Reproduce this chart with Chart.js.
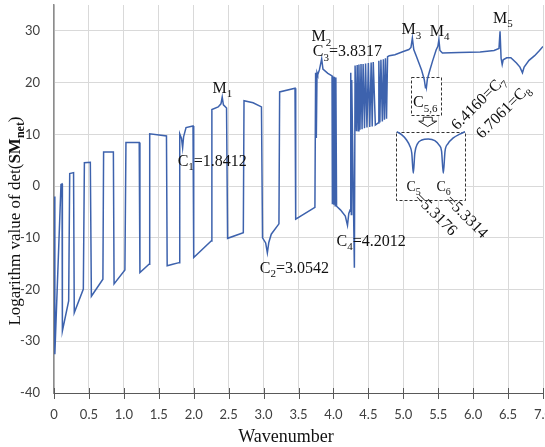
<!DOCTYPE html>
<html>
<head>
<meta charset="utf-8">
<script src="https://cdn.jsdelivr.net/npm/chart.js@4.4.1/dist/chart.umd.min.js"></script>
<style>
  body { margin: 0; background: #fff; }
  canvas { display: block; }
</style>
</head>
<body>
<canvas id="detChart" width="545" height="447"></canvas>
<script>
// log value of det(SMnet) against wavenumber
const wavenumber = [
  0.000, 0.012, 0.100, 0.115, 0.120, 0.210, 0.225, 0.280, 0.290, 0.420,
  0.435, 0.520, 0.535, 0.700, 0.710, 0.850, 0.860, 1.015, 1.030, 1.220,
  1.230, 1.360, 1.370, 1.610, 1.620, 1.700, 1.790, 1.800, 1.825, 1.8412,
  1.855, 1.890, 1.990, 2.000, 2.250, 2.260, 2.350, 2.390, 2.408, 2.425,
  2.470, 2.485, 2.710, 2.720, 2.850, 2.970, 2.985, 3.030, 3.0542, 3.075,
  3.110, 3.220, 3.230, 3.450, 3.460, 3.735, 3.745, 3.755, 3.765, 3.775,
  3.800, 3.8317, 3.850, 3.920, 3.980, 3.985, 3.995, 4.005, 4.015, 4.025,
  4.035, 4.045, 4.100, 4.170, 4.2012, 4.220, 4.240, 4.248, 4.256, 4.262,
  4.300, 4.310, 4.330, 4.340, 4.355, 4.365, 4.380, 4.395, 4.410, 4.425,
  4.445, 4.460, 4.480, 4.500, 4.520, 4.540, 4.555, 4.570, 4.600, 4.640,
  4.650, 4.665, 4.680, 4.700, 4.715, 4.730, 4.745, 4.760, 4.775, 4.800,
  4.880, 5.000, 5.080, 5.110, 5.130, 5.150, 5.190, 5.260, 5.300, 5.3176,
  5.325, 5.3314, 5.345, 5.380, 5.420, 5.470, 5.495, 5.510, 5.525, 5.560,
  5.800, 6.100, 6.300, 6.370, 6.385, 6.400, 6.416, 6.430, 6.480, 6.540,
  6.620, 6.670, 6.7061, 6.730, 6.800, 6.880, 6.950, 7.000
];
const logDet = [
  -2.0, -32.5, 0.3, 0.4, -28.0, -22.2, 2.4, 2.6, -24.5, -19.9,
  4.5, 4.6, -21.3, -18.0, 6.6, 6.6, -18.9, -16.2, 8.4, 8.4,
  -16.7, -15.1, 10.1, 9.7, -15.4, -15.1, -14.8, 10.1, 9.2, 7.4,
  9.5, 11.3, 11.6, -13.8, -10.6, 14.8, 15.3, 15.9, 17.2, 15.7,
  15.1, -10.1, -9.0, 16.5, 16.1, 15.3, -10.0, -11.0, -12.9, -10.9,
  -9.3, -7.3, 18.2, 18.9, -6.4, -4.1, 21.9, 9.3, 21.9, 21.5,
  22.5, 24.6, 22.6, 21.8, 21.3, -3.5, 21.2, -3.6, 21.1, -3.8,
  21.0, -3.9, -4.6, -5.8, -7.6, -5.3, -4.6, 21.9, -5.5, 20.5,
  -15.8, 23.3, 10.6, 23.4, 10.7, 23.5, 10.9, 23.6, 11.0, 23.6,
  11.2, 23.7, 11.3, 23.8, 11.4, 23.9, 11.5, 24.0, 11.8, 12.2,
  24.2, 12.3, 24.4, 12.5, 24.5, 12.8, 24.7, 13.0, 25.0, 25.2,
  25.4, 26.0, 26.4, 26.8, 28.6, 26.4, 25.0, 22.5, 20.6, 19.0,
  19.6, 19.1, 20.7, 22.4, 24.2, 26.3, 27.0, 28.3, 26.2, 25.7,
  25.8, 25.9, 26.2, 26.6, 29.9, 24.7, 23.5, 24.4, 24.8, 24.8,
  23.8, 23.0, 21.9, 23.0, 24.3, 25.2, 26.2, 27.0
];

// magnified view of the C5 / C6 double dip drawn inside the inset box
const insetWavenumber = [
  5.3100, 5.3125, 5.3145, 5.3160, 5.3169, 5.3176, 5.3183, 5.3195, 5.3215, 5.3245,
  5.3275, 5.3295, 5.3306, 5.3314, 5.3322, 5.3335, 5.3360, 5.3390, 5.3414
];
const insetLogDet = [
  24.0, 23.0, 21.6, 19.9, 17.8, 12.0, 17.8, 20.5, 21.6, 21.9,
  21.4, 20.1, 18.4, 12.0, 18.4, 20.5, 22.2, 23.3, 24.0
];

const xTicks = [0, 0.5, 1, 1.5, 2, 2.5, 3, 3.5, 4, 4.5, 5, 5.5, 6, 6.5, 7];
const yTicks = [-40, -30, -20, -10, 0, 10, 20, 30];

// text labels on the curve, {n} is a subscript
const notes = [
  { t: 'M{1}', x: 2.41, y: 18.0, align: 'center' },
  { t: 'C{1}=1.8412', x: 1.77, y: 3.9 },
  { t: 'M{2}', x: 3.686, y: 28.0 },
  { t: 'C{3}=3.8317', x: 3.705, y: 25.1 },
  { t: 'C{2}=3.0542', x: 2.947, y: -16.8 },
  { t: 'C{4}=4.2012', x: 4.044, y: -11.6 },
  { t: 'M{3}', x: 5.117, y: 29.3, align: 'center' },
  { t: 'M{4}', x: 5.38, y: 29.0 },
  { t: 'M{5}', x: 6.285, y: 31.5 },
  { t: 'C{5,6}', x: 5.14, y: 15.2 },
  { t: 'C{5}', x: 5.045, y: -0.9, size: 14 },
  { t: 'C{6}', x: 5.475, y: -0.9, size: 14 },
  { t: '=5.3176', x: 5.15, y: -2.5, angle: 45 },
  { t: '=5.3314', x: 5.59, y: -2.95, angle: 45 },
  { t: '6.4160=C{7}', x: 5.771, y: 10.7, angle: -45 },
  { t: '6.7061=C{8}', x: 6.127, y: 9.07, angle: -45 }
];

const serif = '"Liberation Serif", "Times New Roman", serif';

function parseRuns(str) {
  return str.split(/(\{[^}]*\})/).filter(s => s).map(s =>
    s[0] === '{' ? [s.slice(1, -1), true] : [s, false]);
}

function drawRuns(ctx, runs, x, y, opts) {
  const size = opts.size || 16;
  const fontOf = r => (r[2] ? 'bold ' : '') + (r[1] ? Math.round(size * 0.68) : size) + 'px ' + serif;
  let w = 0;
  runs.forEach(r => { ctx.font = fontOf(r); w += ctx.measureText(r[0]).width; });
  ctx.save();
  ctx.translate(x, y);
  ctx.rotate((opts.angle || 0) * Math.PI / 180);
  ctx.fillStyle = '#111';
  ctx.textBaseline = 'alphabetic';
  ctx.textAlign = 'left';
  let cx = opts.align === 'center' ? -w / 2 : 0;
  runs.forEach(r => {
    ctx.font = fontOf(r);
    ctx.fillText(r[0], cx, r[1] ? size * 0.27 : 0);
    cx += ctx.measureText(r[0]).width;
  });
  ctx.restore();
}

const decorations = {
  id: 'decorations',
  beforeDatasetsDraw(chart) {
    const { ctx, scales: { x, y } } = chart;
    ctx.save();
    ctx.strokeStyle = '#333';
    ctx.lineWidth = 1;
    ctx.setLineDash([3, 2]);
    [[5.107, 5.536, 21.0, 13.65], [4.89, 5.88, 10.4, -2.8]].forEach(b => {
      const l = x.getPixelForValue(b[0]), r = x.getPixelForValue(b[1]);
      const t = y.getPixelForValue(b[2]), bt = y.getPixelForValue(b[3]);
      ctx.fillStyle = '#fff';
      ctx.fillRect(l, t, r - l, bt - t);
      ctx.strokeRect(Math.round(l) + 0.5, Math.round(t) + 0.5, Math.round(r - l), Math.round(bt - t));
    });
    // hollow arrow from the small box to the inset
    ctx.setLineDash([]);
    const ax = x.getPixelForValue(5.35);
    const y0 = y.getPixelForValue(13.3), y1 = y.getPixelForValue(12.55), y2 = y.getPixelForValue(11.5);
    ctx.beginPath();
    ctx.moveTo(ax - 4.5, y0);
    ctx.lineTo(ax + 4.5, y0);
    ctx.lineTo(ax + 4.5, y1);
    ctx.lineTo(ax + 9, y1);
    ctx.lineTo(ax, y2);
    ctx.lineTo(ax - 9, y1);
    ctx.lineTo(ax - 4.5, y1);
    ctx.closePath();
    ctx.fillStyle = '#fff';
    ctx.fill();
    ctx.strokeStyle = '#222';
    ctx.stroke();
    ctx.restore();
  },
  afterDraw(chart) {
    const { ctx, scales: { x, y }, chartArea } = chart;
    ctx.save();
    // tick marks crossing the x axis
    ctx.strokeStyle = '#595959';
    ctx.lineWidth = 1;
    xTicks.forEach(v => {
      const px = Math.round(x.getPixelForValue(v)) + 0.5;
      ctx.beginPath();
      ctx.moveTo(px, chartArea.bottom - 5);
      ctx.lineTo(px, chartArea.bottom + 6);
      ctx.stroke();
    });
    notes.forEach(n => drawRuns(ctx, parseRuns(n.t), x.getPixelForValue(n.x), y.getPixelForValue(n.y), n));
    // axis titles
    drawRuns(ctx, [['Wavenumber', false]], 286, 442, { size: 18, align: 'center' });
    drawRuns(ctx, [['Logarithm value of det(', false], ['SM', false, true], ['net', true, true], [')', false]],
      19.5, 221, { size: 17, align: 'center', angle: -90 });
    ctx.restore();
  }
};

new Chart(document.getElementById('detChart'), {
  type: 'line',
  data: {
    datasets: [
      {
        data: wavenumber.map((w, i) => ({ x: w, y: logDet[i] })),
        borderColor: '#3d62ad',
        borderWidth: 1.5,
        pointRadius: 0,
        tension: 0
      },
      {
        data: insetWavenumber.map((w, i) => ({ x: w, y: insetLogDet[i] })),
        xAxisID: 'xi',
        yAxisID: 'yi',
        borderColor: '#3d62ad',
        borderWidth: 1.5,
        pointRadius: 0,
        cubicInterpolationMode: 'monotone'
      }
    ]
  },
  options: {
    responsive: false,
    animation: false,
    devicePixelRatio: 1,
    layout: { padding: { left: 0, right: 2, top: 5, bottom: 0 } },
    plugins: { legend: { display: false }, tooltip: { enabled: false } },
    scales: {
      x: {
        type: 'linear',
        min: 0,
        max: 7,
        afterBuildTicks: s => { s.ticks = xTicks.map(v => ({ value: v })); },
        afterFit: s => { s.height = 54; s.paddingLeft = 0; s.paddingRight = 0; },
        grid: { color: '#d9d9d9', drawTicks: false },
        border: { color: '#595959', width: 1 },
        ticks: { padding: 14, color: '#404040', font: { family: 'Lato', size: 13 }, maxRotation: 0, autoSkip: false }
      },
      y: {
        min: -40,
        max: 35,
        afterBuildTicks: s => { s.ticks = yTicks.map(v => ({ value: v })); },
        afterFit: s => { s.width = 54; s.paddingTop = 0; s.paddingBottom = 0; },
        grid: { color: '#d9d9d9', drawTicks: false },
        border: { color: '#8c8c8c', width: 1.5 },
        ticks: { padding: 14, color: '#404040', font: { family: 'Lato', size: 13 } }
      },
      xi: { type: 'linear', display: false, min: 5.15233, max: 5.37726 },
      yi: { type: 'linear', display: false, min: -51.37, max: 60.55 }
    }
  },
  plugins: [decorations]
});
</script>
</body>
</html>
